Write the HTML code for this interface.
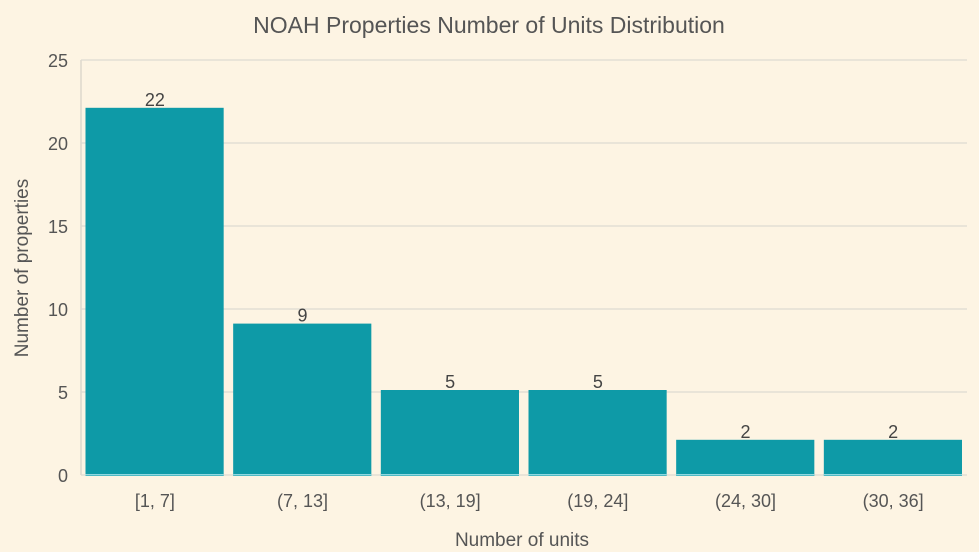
<!DOCTYPE html>
<html><head><meta charset="utf-8"><style>
body{margin:0;background:#fdf4e3;}
svg{display:block;font-family:"Liberation Sans",sans-serif;}
</style></head><body>
<svg id="chart" width="979" height="552">
<rect width="979" height="552" fill="#fdf4e3"/>
<text x="489" y="33" text-anchor="middle" font-size="23" fill="#555">NOAH Properties Number of Units Distribution</text>
<g id="grid"></g><g id="bars"></g><g id="xlabels"></g>
<text x="522" y="546" text-anchor="middle" font-size="19" fill="#555">Number of units</text>
<text transform="translate(28,268) rotate(-90)" text-anchor="middle" font-size="19" fill="#555">Number of properties</text>
</svg>
<script>
const categories=["[1, 7]","(7, 13]","(13, 19]","(19, 24]","(24, 30]","(30, 36]"];
const counts=[22,9,5,5,2,2];
const yTicks=[0,5,10,15,20,25];
const NS="http://www.w3.org/2000/svg";
const X0=81,X1=967,Y0=475,Y1=60,YMAX=25;
const y=v=>Y0-(v/YMAX)*(Y0-Y1);
const slot=(X1-X0)/categories.length;
const x=i=>X0+i*slot;
function mk(t,a,p){const e=document.createElementNS(NS,t);for(const k in a)e.setAttribute(k,a[k]);p.appendChild(e);return e;}
const g=document.getElementById('grid'),b=document.getElementById('bars'),xl=document.getElementById('xlabels');
const ax=mk('line',{x1:X0,y1:Y1,x2:X0,y2:Y0,stroke:'#ddd8cc','stroke-width':1.5},g);


yTicks.forEach(t=>{
  const l=mk('line',{x1:X0,x2:X1,y1:y(t),y2:y(t),stroke:'#ddd9d2','stroke-width':1.2},g);
  
  
  const tx=mk('text',{x:68,y:y(t)+7,'text-anchor':'end','font-size':18,fill:'#555'},g);
  tx.textContent=t;
  
  
});
counts.forEach((c,i)=>{
  const bx=x(i)+4.5,bw=slot-9.5;
  const top=y(c)-2;
  const r=mk('rect',{x:bx,y:top,width:bw,height:Y0+1-top,fill:'#0e9aa7'},b);
  
  
  const e=mk('rect',{x:bx,y:Y0-1,width:bw,height:1.5,fill:'#8fd8e0'},b);
  
  
  const t=mk('text',{x:x(i)+slot/2,y:top-2,'text-anchor':'middle','font-size':18,fill:'#444'},b);
  t.textContent=c;
  
  
  const lt=mk('text',{x:x(i)+slot/2,y:507,'text-anchor':'middle','font-size':18,fill:'#555'},xl);
  lt.textContent=categories[i];
  
  
});
</script>
</body></html>
